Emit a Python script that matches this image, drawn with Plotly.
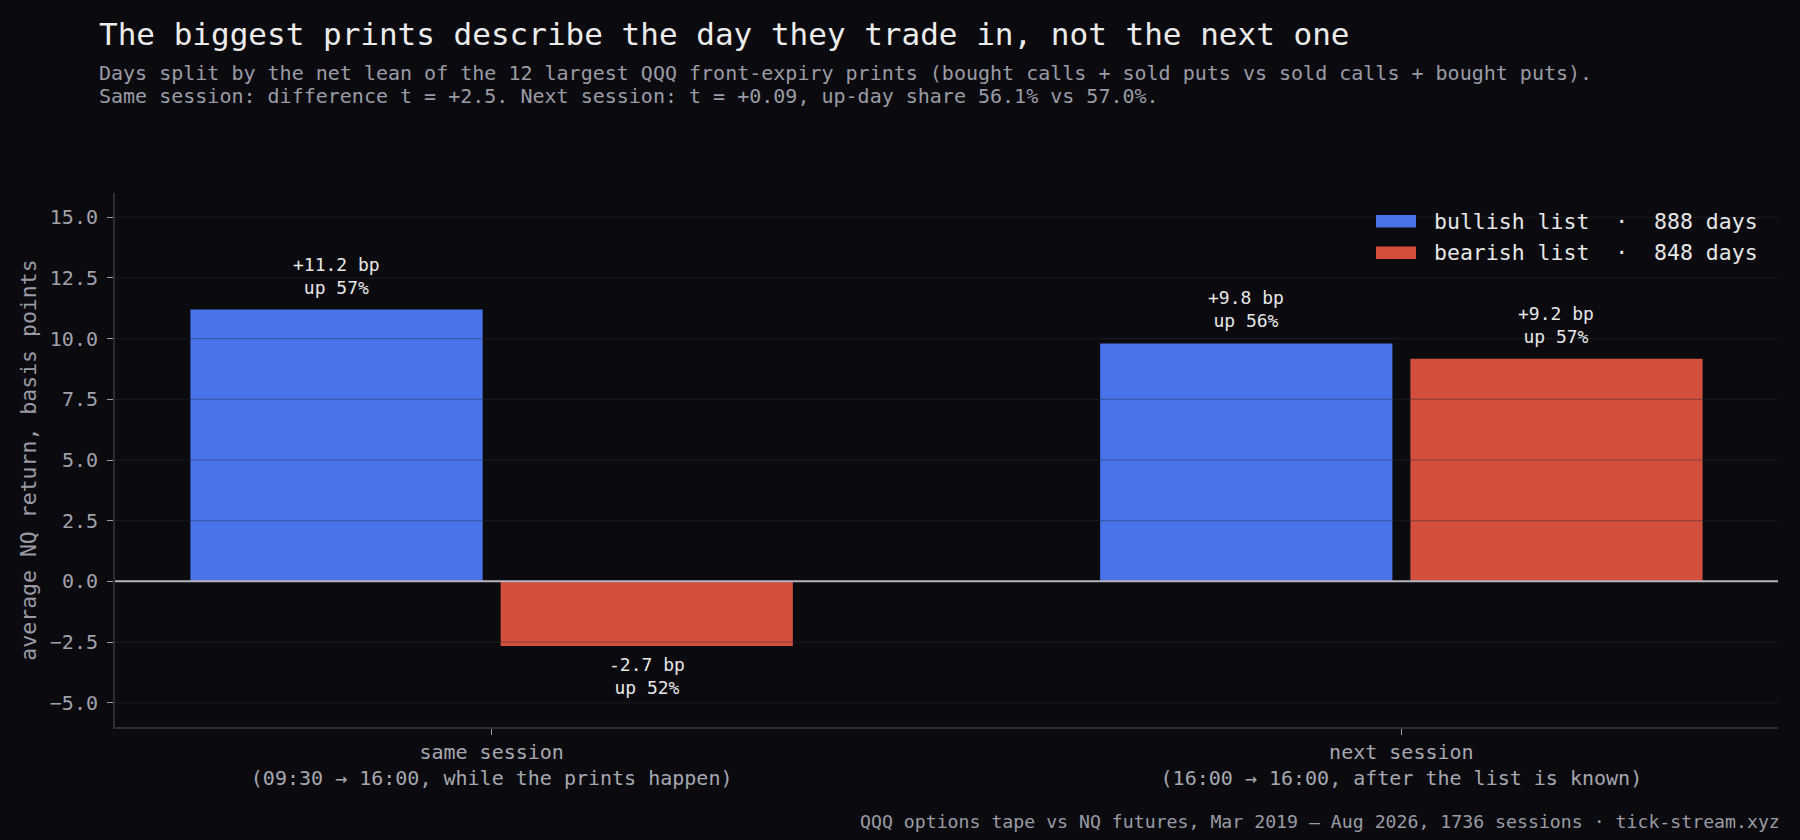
import plotly.graph_objects as go

# data
sessions = ["same session", "next session"]
windows = ["(09:30 → 16:00, while the prints happen)",
           "(16:00 → 16:00, after the list is known)"]
bull_bp = [11.2, 9.8]
bear_bp = [-2.66, 9.17]
bull_up = [57, 56]
bear_up = [52, 57]
bull_days = 888
bear_days = 848
y_ticks = [-5.0, -2.5, 0.0, 2.5, 5.0, 7.5, 10.0, 12.5, 15.0]

BG = "#0b0b0f"
BLUE = "#4a73ea"
RED = "#d24e3d"
MUTED = "#9a9ba5"
LIGHT = "#e6e6e6"
FONT = "DejaVu Sans Mono"

W, H = 1800, 840
ML, MR, MT, MB = 115, 22, 193, 113
PW, PH = W - ML - MR, H - MT - MB
BARGAP = 0.318
GROUPGAP = 0.058


def px_x(px):
    return (px - ML) / PW


def px_y(py):
    return (H - MB - py) / PH


cats = [f"{s}<br>{w}" for s, w in zip(sessions, windows)]

fig = go.Figure()
fig.add_trace(go.Bar(x=cats, y=bull_bp, marker_color=BLUE, marker_line_width=0,
                     name="bullish list", showlegend=False))
fig.add_trace(go.Bar(x=cats, y=bear_bp, marker_color=RED, marker_line_width=0,
                     name="bearish list", showlegend=False))

# grid drawn over the bars, like the reference
for t in y_ticks:
    if t == 0:
        continue
    fig.add_shape(type="line", xref="paper", yref="y", x0=0, x1=1, y0=t, y1=t,
                  line=dict(color="rgba(45,45,58,0.45)", width=1), layer="above")
fig.add_shape(type="line", xref="paper", yref="y", x0=0, x1=1, y0=0, y1=0,
              line=dict(color="#b4b4bc", width=2), layer="above")

# value labels above / below each bar
slot = (1 - BARGAP) / 2
for vals, ups, off in [(bull_bp, bull_up, -slot / 2), (bear_bp, bear_up, slot / 2)]:
    for i, (v, u) in enumerate(zip(vals, ups)):
        fig.add_annotation(
            x=i + off, y=v, xref="x", yref="y",
            text=f"{v:+.1f} bp<br>up {u}%", showarrow=False,
            yanchor="bottom" if v >= 0 else "top",
            yshift=10 if v >= 0 else -6,
            font=dict(size=18, color=LIGHT, family=FONT),
        )

# title block
fig.add_annotation(x=px_x(97), y=px_y(34), xref="paper", yref="paper",
                   text="The biggest prints describe the day they trade in, not the next one",
                   showarrow=False, xanchor="left", yanchor="middle",
                   font=dict(size=31, color="#ececec", family=FONT))
fig.add_annotation(x=px_x(97), y=px_y(73), xref="paper", yref="paper",
                   text="Days split by the net lean of the 12 largest QQQ front-expiry prints "
                        "(bought calls + sold puts vs sold calls + bought puts).",
                   showarrow=False, xanchor="left", yanchor="middle",
                   font=dict(size=20, color=MUTED, family=FONT))
fig.add_annotation(x=px_x(97), y=px_y(96), xref="paper", yref="paper",
                   text="Same session: difference t = +2.5. Next session: t = +0.09, "
                        "up-day share 56.1% vs 57.0%.",
                   showarrow=False, xanchor="left", yanchor="middle",
                   font=dict(size=20, color=MUTED, family=FONT))

# footer
fig.add_annotation(x=px_x(1782), y=px_y(821), xref="paper", yref="paper",
                   text="QQQ options tape vs NQ futures, Mar 2019 – Aug 2026, "
                        "1736 sessions · tick-stream.xyz",
                   showarrow=False, xanchor="right", yanchor="middle",
                   font=dict(size=18.2, color=MUTED, family=FONT))

# legend drawn by hand so the swatches can be wide bars
for k, (label, days, col) in enumerate([("bullish list", bull_days, BLUE),
                                        ("bearish list", bear_days, RED)]):
    top = 215 + k * 31.5
    fig.add_shape(type="rect", xref="paper", yref="paper",
                  x0=px_x(1376), x1=px_x(1416), y0=px_y(top), y1=px_y(top + 12.5),
                  fillcolor=col, line_width=0)
    fig.add_annotation(x=px_x(1432), y=px_y(top + 6), xref="paper", yref="paper",
                       text=f"{label}  ·  {days} days", showarrow=False,
                       xanchor="left", yanchor="middle",
                       font=dict(size=21.5, color=LIGHT, family=FONT))

fig.update_layout(
    width=W, height=H,
    margin=dict(l=ML, r=MR, t=MT, b=MB),
    paper_bgcolor=BG, plot_bgcolor=BG,
    barmode="group", bargap=BARGAP, bargroupgap=GROUPGAP,
    font=dict(family=FONT, color=MUTED),
    showlegend=False,
)
fig.update_xaxes(
    range=[-0.414, 1.414], showgrid=False, zeroline=False,
    showline=True, linecolor="#2c2c34", linewidth=2,
    ticks="outside", ticklen=6, tickcolor="#9a9ba5", tickwidth=1,
    tickfont=dict(size=20, color="#a6a7b0", family=FONT),
)
fig.update_yaxes(
    range=[-6, 16], tickvals=y_ticks, tickformat=".1f",
    showgrid=False, zeroline=False,
    showline=True, linecolor="#2c2c34", linewidth=2,
    ticks="outside", ticklen=6, tickcolor="#9a9ba5", tickwidth=1,
    ticklabelstandoff=5,
    tickfont=dict(size=20, color="#a0a1ab", family=FONT),
    title=dict(text="average NQ return, basis points",
               font=dict(size=21.5, color=MUTED, family=FONT), standoff=7),
)

fig.write_html("out.html", config={"displayModeBar": False},
               post_script="document.body.style.margin='0';"
                           "document.body.style.background='#0b0b0f';")
